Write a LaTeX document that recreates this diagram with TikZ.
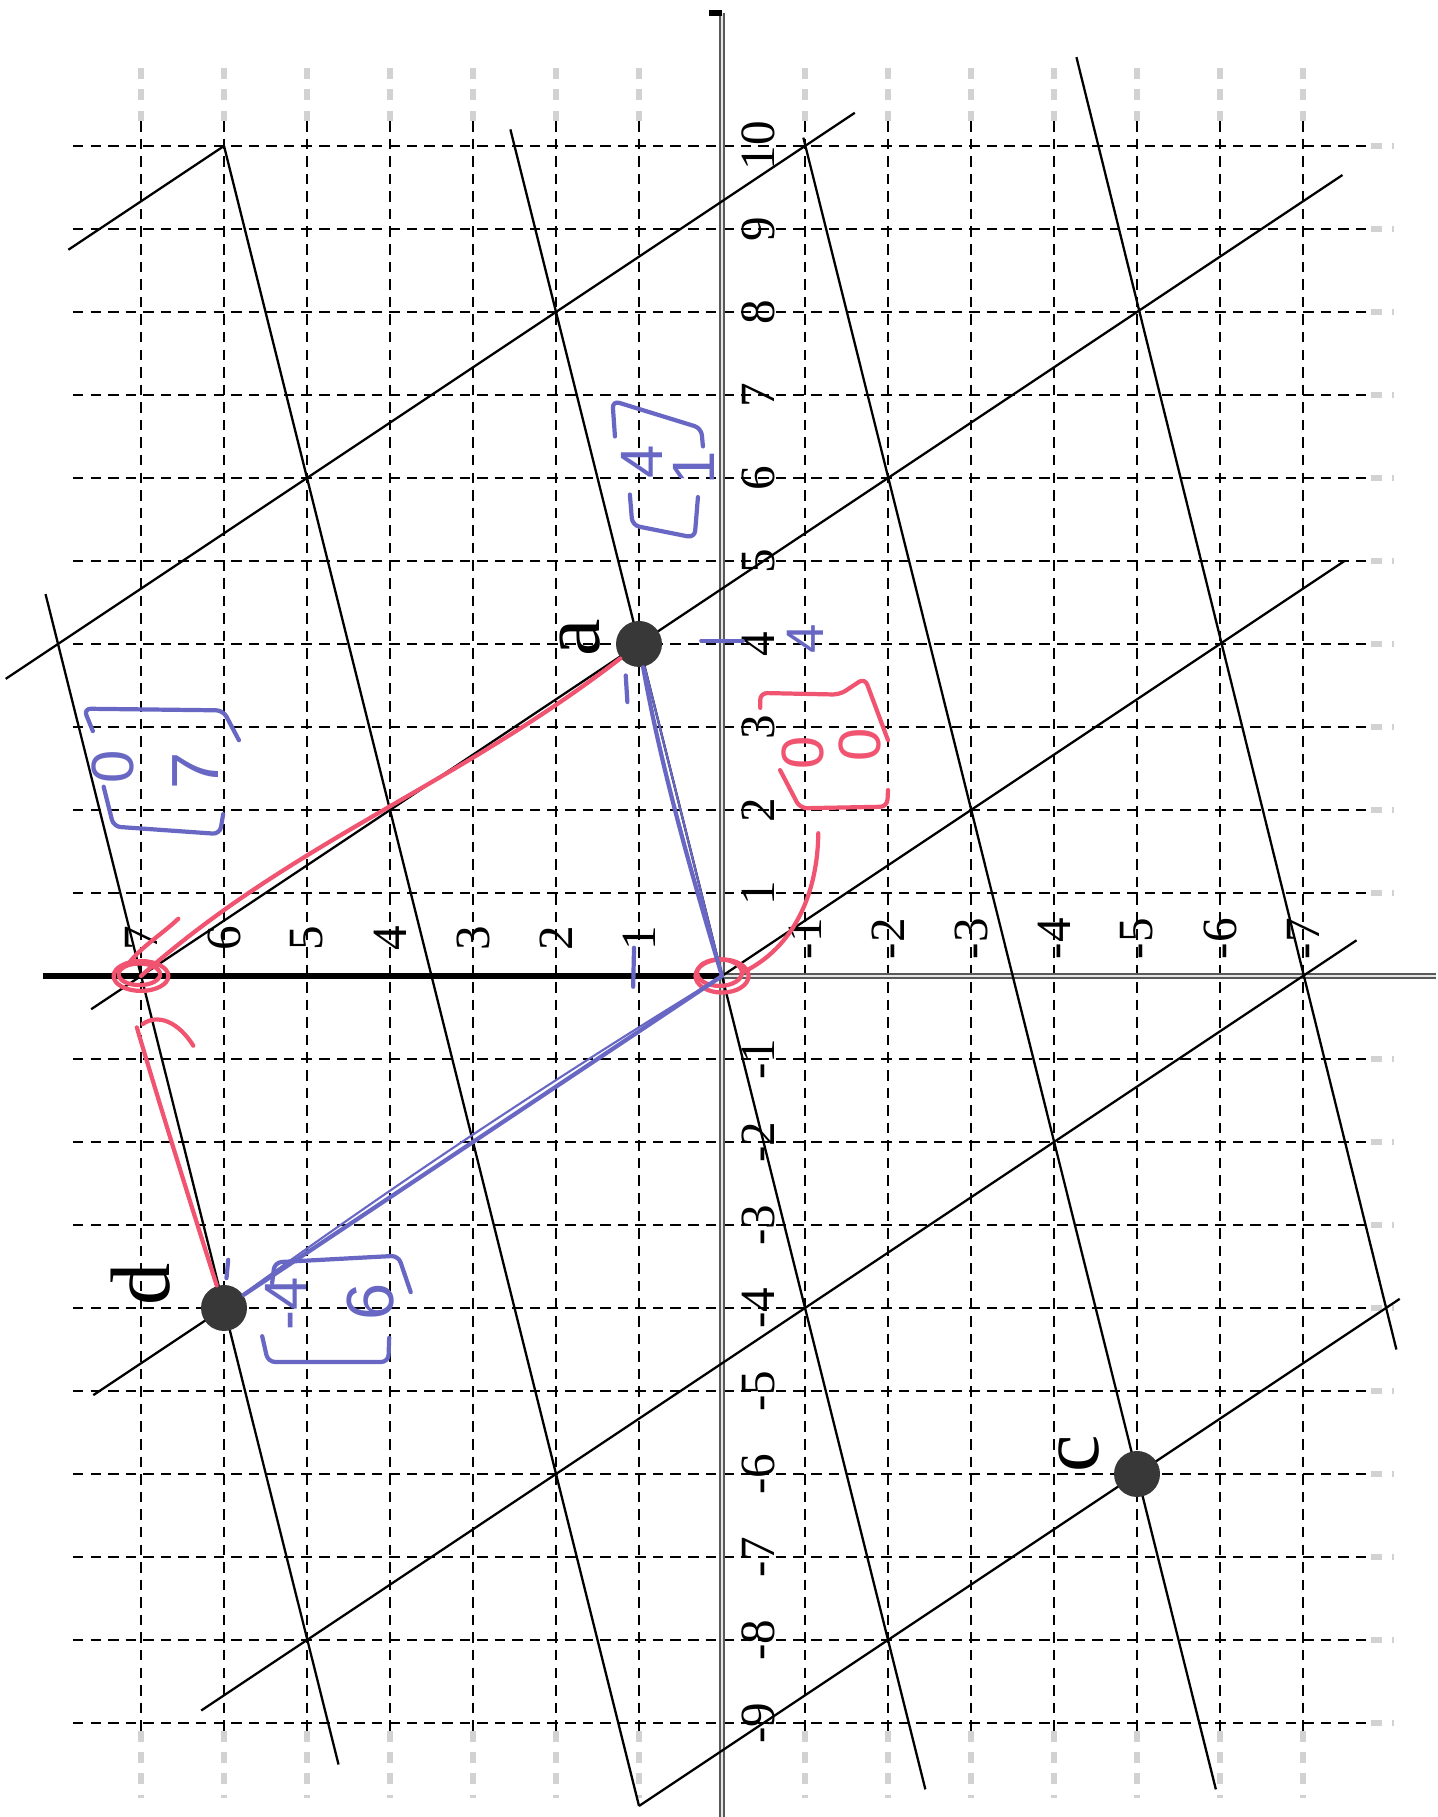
\documentclass[tikz,border=0pt]{standalone}
\usepackage{fontspec}
\setmainfont{Liberation Serif}
\newfontfamily\penfont{Liberation Sans}
\usepackage{xcolor}
\usepackage{tikz}
\usetikzlibrary{calc}
\definecolor{penBlue}{RGB}{104,104,196}
\definecolor{penRed}{RGB}{240,84,112}
\definecolor{dotGray}{RGB}{56,56,56}
\tikzset{
  gridline/.style={black, line width=0.45pt, dash pattern=on 3pt off 2pt},
  ghostline/.style={gray!35, line width=1.6pt, dash pattern=on 3pt off 3pt},
  latline/.style={black, line width=0.65pt},
  axisline/.style={draw=gray!70!black, line width=0.5pt, double=gray!20, double distance=0.6pt},
  dotnode/.style={circle, fill=dotGray, minimum size=0.46cm, inner sep=0pt},
  ticklabel/.style={rotate=90, font=\fontsize{14}{14}\selectfont, inner sep=0pt},
  ptlabel/.style={rotate=90, font=\fontsize{24}{24}\selectfont, inner sep=0pt},
  penstroke/.style={line width=1.2pt, line cap=round, line join=round, rounded corners=2pt},
  pentext/.style={rotate=90, font=\penfont\fontsize{17}{17}\selectfont, inner sep=0pt}
}

\begin{document}
\begin{tikzpicture}
  \useasboundingbox (0,0) rectangle (14.37,18.17);
  \begin{scope}[shift={(7.22,8.41)}, x={(0cm,0.83cm)}, y={(-0.83cm,0cm)}]
    % faint print grid at the edges
    \foreach \j in {-7,...,7} {
      \draw[ghostline] (10.3,\j) -- (11,\j);
      \draw[ghostline] (-9.1,\j) -- (-9.9,\j);
    }
    \foreach \i in {-9,...,10}
      \draw[ghostline] (\i,-7.82) -- (\i,-8.1);
    % dashed grid
    \foreach \i in {-9,...,10}
      \draw[gridline] (\i,7.82) -- (\i,-7.82);
    \foreach \j in {-7,...,7}
      \draw[gridline] (10.3,\j) -- (-9.1,\j);
    % axes
    \draw[axisline] (11.6,0) -- (-10.15,0);
    \draw[black, line width=1.6pt] (11.6,0) -- (11.6,0.16);
    \draw[black, line width=1.7pt] (0,8.18) -- (0,0);
    \draw[axisline] (0,0) -- (0,-8.6);
    \foreach \i in {-9,...,-1,1,2,...,10}
      \node[ticklabel] (xl\i) at (\i,-0.44) {\i};
    \foreach \j in {-7,...,-1,1,2,...,7}
      \node[ticklabel] (yl\j) at (0.45,\j) {\j};

    % lattice lines along (4,1)
    \draw[latline] (4.6,8.15) -- (-9.5,4.62);
    \draw[latline] (10,6) -- (-10,1);
    \draw[latline] (10.2,2.55) -- (-9.8,-2.45);
    \draw[latline] (10.1,-0.98) -- (-9.8,-5.95);
    \draw[latline] (11.07,-4.27) -- (-4.5,-8.125);
    % lattice lines along (2,-3)
    \draw[latline] (10,6) -- (8.75,7.875);
    \draw[latline] (3.58,8.63) -- (10.4,-1.6);
    \draw[latline] (-0.4,7.6) -- (9.65,-7.475);
    \draw[latline] (-5.05,7.575) -- (5,-7.5);
    \draw[latline] (-8.85,6.275) -- (0.43,-7.645);
    \draw[latline] (-10,1) -- (-3.89,-8.165);

    % points
    \coordinate (o) at (0,0);
    \coordinate (e7) at (0,7);
    \coordinate (redtip) at (-0.62,7.05);
    \node[dotnode] (a) at (4,1) {};
    \node[dotnode] (d) at (-4,6) {};
    \node[dotnode] (c) at (-6,-5) {};
    \node[ptlabel] (alab) at (4.08,1.71) {a};
    \node[ptlabel] (dlab) at (-3.72,7.0) {d};
    \node[ptlabel] (clab) at (-5.76,-4.3) {c};

    % red pen
    \draw[penstroke, penRed] (e7) .. controls (1.6,5.2) and (2.3,3.2) .. (a);
    \draw[penstroke, penRed] (d) .. controls (-2.6,6.45) and (-1.3,6.85) .. (redtip);
    \draw[penstroke, penRed] (o) ellipse [x radius=0.2, y radius=0.32];
    \draw[penstroke, penRed] (0.04,0.03) ellipse [x radius=0.16, y radius=0.27];
    \draw[penstroke, penRed] (e7) ellipse [x radius=0.18, y radius=0.33];
    \draw[penstroke, penRed] (0.02,7.02) ellipse [x radius=0.13, y radius=0.25];
    \draw[penstroke, penRed] (0.15,7.15) .. controls (0.35,7.0) and (0.5,6.75) .. (0.69,6.55);
    \draw[penstroke, penRed] (-0.58,6.98) .. controls (-0.45,6.8) and (-0.55,6.55) .. (-0.84,6.37);
    \draw[penstroke, penRed] (1.72,-1.16) .. controls (0.9,-1.15) and (0.3,-0.8) .. (0.04,-0.24);
    \draw[penstroke, penRed] (3.23,-0.46) -- (3.41,-0.46) -- (3.39,-1.42) -- (3.59,-1.72) -- (2.84,-2.0);
    \draw[penstroke, penRed] (2.48,-0.7) -- (2.02,-0.94) -- (2.04,-1.99) -- (2.24,-2.0);
    \node[pentext, text=penRed] (r0a) at (2.69,-0.98) {0};
    \node[pentext, text=penRed] (r0b) at (2.78,-1.66) {0};

    % blue pen
    \draw[penstroke, penBlue] (o) .. controls (1.4,0.42) and (2.6,0.75) .. (a);
    \draw[penstroke, penBlue, line width=0.6pt] (o) -- (a);
    \draw[penstroke, penBlue] (o) -- (d);
    \draw[penstroke, penBlue, line width=0.6pt] (o) .. controls (-1.4,2.3) and (-2.7,4.2) .. (d);
    \draw[penstroke, penBlue] (4.04,0.25) -- (4.04,-0.25);
    \draw[penstroke, penBlue] (3.3,1.14) -- (3.62,1.16);
    \draw[penstroke, penBlue] (0.34,1.06) -- (-0.13,1.07);
    \draw[penstroke, penBlue] (-3.42,5.95) -- (-3.64,5.97);
    \node[pentext, text=penBlue, font=\penfont\fontsize{15}{15}\selectfont] (b4) at (4.06,-1.0) {4};
    % [4;1]
    \draw[penstroke, penBlue] (5.8,1.11) -- (5.43,1.08) -- (5.28,0.33) -- (5.77,0.29);
    \draw[penstroke, penBlue] (6.5,1.29) -- (6.93,1.32) -- (6.6,0.25) -- (6.38,0.23);
    \node[pentext, text=penBlue] (va4) at (6.19,0.97) {4};
    \node[pentext, text=penBlue] (va1) at (6.12,0.34) {1};
    % [0;7]
    \draw[penstroke, penBlue] (2.28,7.45) -- (1.8,7.33) -- (1.71,6.05) -- (1.95,6.01);
    \draw[penstroke, penBlue] (2.95,7.58) -- (3.22,7.69) -- (3.2,6.01) -- (2.84,5.82);
    \node[pentext, text=penBlue] (ve0) at (2.52,7.34) {0};
    \node[pentext, text=penBlue, font=\penfont\fontsize{19}{19}\selectfont] (ve7) at (2.47,6.34) {7};
    % [-4;6]
    \draw[penstroke, penBlue] (-4.34,5.54) -- (-4.65,5.47) -- (-4.65,4.02) -- (-4.36,4.01);
    \draw[penstroke, penBlue] (-3.7,5.42) -- (-3.45,5.39) -- (-3.37,3.9) -- (-3.81,3.75);
    \node[pentext, text=penBlue] (vdm4) at (-3.95,5.25) {-4};
    \node[pentext, text=penBlue, font=\penfont\fontsize{19}{19}\selectfont] (vd6) at (-3.93,4.24) {6};
  \end{scope}
\end{tikzpicture}
\end{document}
